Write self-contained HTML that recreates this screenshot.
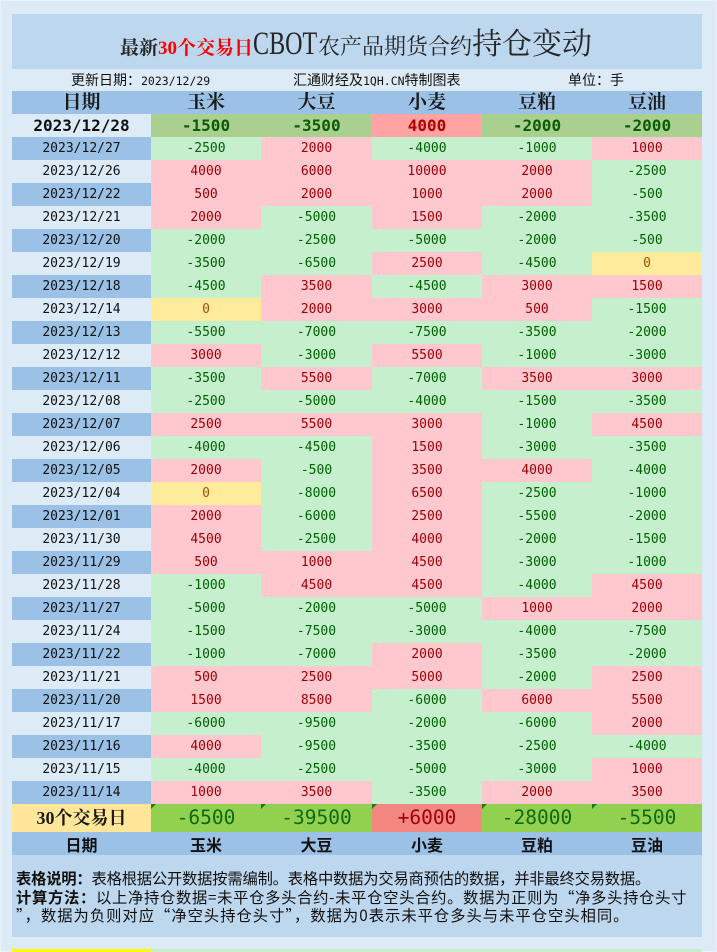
<!DOCTYPE html>
<html><head><meta charset="utf-8">
<style>
*{margin:0;padding:0;box-sizing:border-box}
html,body{width:717px;height:952px;overflow:hidden;background:#ddebf7}
body{position:relative;font-family:"Liberation Sans","Noto Sans CJK SC",sans-serif;color:#111}
.frame{position:absolute;left:0;top:0;width:717px;height:952px;border:1px solid #e9f1fa}
.titlebox{position:absolute;left:12px;top:14px;width:690px;height:55px;background:#bdd7ee}
.title{position:absolute;left:108px;top:14px;display:flex;align-items:baseline;white-space:nowrap;color:#262626;font-family:"Liberation Serif","Noto Serif CJK SC",serif}
.title span{line-height:1}
.t1{font-size:19px;font-weight:bold}
.red{color:#ff0000}
.cbot{font-size:33px;display:inline-block;transform:scaleX(0.73);transform-origin:0 100%;margin-right:-23px}
.t2{font-size:22px}
.t3{font-size:30px}
.sub{position:absolute;top:69px;height:22px;line-height:22px;font-size:14px;white-space:nowrap;font-family:"Liberation Sans","Noto Sans CJK SC",sans-serif;color:#111}
.mono{font-family:"DejaVu Sans Mono",monospace;font-size:11.5px}
table{position:absolute;left:12px;top:91px;width:690px;border-collapse:collapse;table-layout:fixed;border-spacing:0}
td{padding:0;height:23px;line-height:22px;text-align:center;white-space:nowrap;overflow:hidden;font-family:"DejaVu Sans Mono",monospace;font-size:13px}
tr{height:23px}
.hd td{background:#9bc2e6;font-family:"Liberation Serif","Noto Serif CJK SC",serif;font-weight:bold;font-size:19px;color:#1a1a1a}
.d{color:#111}
.b{background:#9bc2e6}
.l{background:#ddebf7}
.p{background:#ffc7ce;color:#9c0006}
.n{background:#c6efce;color:#006100}
.z{background:#ffeb9c;color:#9c5700}
.top td{font-weight:bold;font-size:16px}
.top .g{background:#a9d08e;color:#0a5c0a}
.top .r{background:#ffa3a3;color:#b00000}
.sum{height:28px}
.sum td{height:28px;line-height:28px;font-size:19.5px;position:relative}
.sum .lab{background:#ffe699;font-family:"Liberation Serif","Noto Serif CJK SC",serif;font-weight:bold;font-size:18px;color:#1a1a1a}
.sum .g{background:#92d050;color:#0f6a0f}
.sum .r{background:#f4877f;color:#a00010}
.sum .g::before,.sum .r::before{content:"";position:absolute;left:0;top:0;border-top:5px solid #1a7a1a;border-right:5px solid transparent}
.fh td{background:#9bc2e6;font-family:"Noto Sans CJK SC",sans-serif;font-weight:bold;font-size:16px;color:#111}
.foot{position:absolute;left:12px;top:855px;width:690px;height:82px;background:#bdd7ee;padding:14px 0 0 4px;font-family:"Noto Sans CJK SC",sans-serif;font-size:15.3px;line-height:18.5px;color:#111}
.foot div{white-space:nowrap}
.foot b{font-weight:bold}
.strip1{position:absolute;left:12px;top:949px;width:140px;height:3px;background:#ffff00}
.strip2{position:absolute;left:152px;top:949px;width:550px;height:3px;background:#c6efce}
</style></head><body>
<div class="frame"></div>
<div class="titlebox">
  <div class="title"><span class="t1">最新</span><span class="t1 red">30个交易日</span><span class="cbot">CBOT</span><span class="t2">农产品期货合约</span><span class="t3">持仓变动</span></div>
</div>
<div class="sub" style="left:71px">更新日期：<span class="mono">2023/12/29</span></div>
<div class="sub" style="left:293px">汇通财经及<span class="mono">1QH.CN</span>特制图表</div>
<div class="sub" style="left:568px">单位：手</div>

<table>
<colgroup><col style="width:139px"><col style="width:110px"><col style="width:111px"><col style="width:110px"><col style="width:110px"><col style="width:110px"></colgroup>
<tr class="hd"><td>日期</td><td>玉米</td><td>大豆</td><td>小麦</td><td>豆粕</td><td>豆油</td></tr>
<tr class="top"><td class="l d">2023/12/28</td><td class="g">-1500</td><td class="g">-3500</td><td class="r">4000</td><td class="g">-2000</td><td class="g">-2000</td></tr>
<tr><td class="b d">2023/12/27</td><td class="n">-2500</td><td class="p">2000</td><td class="n">-4000</td><td class="n">-1000</td><td class="p">1000</td></tr>
<tr><td class="l d">2023/12/26</td><td class="p">4000</td><td class="p">6000</td><td class="p">10000</td><td class="p">2000</td><td class="n">-2500</td></tr>
<tr><td class="b d">2023/12/22</td><td class="p">500</td><td class="p">2000</td><td class="p">1000</td><td class="p">2000</td><td class="n">-500</td></tr>
<tr><td class="l d">2023/12/21</td><td class="p">2000</td><td class="n">-5000</td><td class="p">1500</td><td class="n">-2000</td><td class="n">-3500</td></tr>
<tr><td class="b d">2023/12/20</td><td class="n">-2000</td><td class="n">-2500</td><td class="n">-5000</td><td class="n">-2000</td><td class="n">-500</td></tr>
<tr><td class="l d">2023/12/19</td><td class="n">-3500</td><td class="n">-6500</td><td class="p">2500</td><td class="n">-4500</td><td class="z">0</td></tr>
<tr><td class="b d">2023/12/18</td><td class="n">-4500</td><td class="p">3500</td><td class="n">-4500</td><td class="p">3000</td><td class="p">1500</td></tr>
<tr><td class="l d">2023/12/14</td><td class="z">0</td><td class="p">2000</td><td class="p">3000</td><td class="p">500</td><td class="n">-1500</td></tr>
<tr><td class="b d">2023/12/13</td><td class="n">-5500</td><td class="n">-7000</td><td class="n">-7500</td><td class="n">-3500</td><td class="n">-2000</td></tr>
<tr><td class="l d">2023/12/12</td><td class="p">3000</td><td class="n">-3000</td><td class="p">5500</td><td class="n">-1000</td><td class="n">-3000</td></tr>
<tr><td class="b d">2023/12/11</td><td class="n">-3500</td><td class="p">5500</td><td class="n">-7000</td><td class="p">3500</td><td class="p">3000</td></tr>
<tr><td class="l d">2023/12/08</td><td class="n">-2500</td><td class="n">-5000</td><td class="n">-4000</td><td class="n">-1500</td><td class="n">-3500</td></tr>
<tr><td class="b d">2023/12/07</td><td class="p">2500</td><td class="p">5500</td><td class="p">3000</td><td class="n">-1000</td><td class="p">4500</td></tr>
<tr><td class="l d">2023/12/06</td><td class="n">-4000</td><td class="n">-4500</td><td class="p">1500</td><td class="n">-3000</td><td class="n">-3500</td></tr>
<tr><td class="b d">2023/12/05</td><td class="p">2000</td><td class="n">-500</td><td class="p">3500</td><td class="p">4000</td><td class="n">-4000</td></tr>
<tr><td class="l d">2023/12/04</td><td class="z">0</td><td class="n">-8000</td><td class="p">6500</td><td class="n">-2500</td><td class="n">-1000</td></tr>
<tr><td class="b d">2023/12/01</td><td class="p">2000</td><td class="n">-6000</td><td class="p">2500</td><td class="n">-5500</td><td class="n">-2000</td></tr>
<tr><td class="l d">2023/11/30</td><td class="p">4500</td><td class="n">-2500</td><td class="p">4000</td><td class="n">-2000</td><td class="n">-1500</td></tr>
<tr><td class="b d">2023/11/29</td><td class="p">500</td><td class="p">1000</td><td class="p">4500</td><td class="n">-3000</td><td class="n">-1000</td></tr>
<tr><td class="l d">2023/11/28</td><td class="n">-1000</td><td class="p">4500</td><td class="p">4500</td><td class="n">-4000</td><td class="p">4500</td></tr>
<tr><td class="b d">2023/11/27</td><td class="n">-5000</td><td class="n">-2000</td><td class="n">-5000</td><td class="p">1000</td><td class="p">2000</td></tr>
<tr><td class="l d">2023/11/24</td><td class="n">-1500</td><td class="n">-7500</td><td class="n">-3000</td><td class="n">-4000</td><td class="n">-7500</td></tr>
<tr><td class="b d">2023/11/22</td><td class="n">-1000</td><td class="n">-7000</td><td class="p">2000</td><td class="n">-3500</td><td class="n">-2000</td></tr>
<tr><td class="l d">2023/11/21</td><td class="p">500</td><td class="p">2500</td><td class="p">5000</td><td class="n">-2000</td><td class="p">2500</td></tr>
<tr><td class="b d">2023/11/20</td><td class="p">1500</td><td class="p">8500</td><td class="n">-6000</td><td class="p">6000</td><td class="p">5500</td></tr>
<tr><td class="l d">2023/11/17</td><td class="n">-6000</td><td class="n">-9500</td><td class="n">-2000</td><td class="n">-6000</td><td class="p">2000</td></tr>
<tr><td class="b d">2023/11/16</td><td class="p">4000</td><td class="n">-9500</td><td class="n">-3500</td><td class="n">-2500</td><td class="n">-4000</td></tr>
<tr><td class="l d">2023/11/15</td><td class="n">-4000</td><td class="n">-2500</td><td class="n">-5000</td><td class="n">-3000</td><td class="p">1000</td></tr>
<tr><td class="b d">2023/11/14</td><td class="p">1000</td><td class="p">3500</td><td class="n">-3500</td><td class="p">2000</td><td class="p">3500</td></tr>
<tr class="sum"><td class="lab">30个交易日</td><td class="g">-6500</td><td class="g">-39500</td><td class="r">+6000</td><td class="g">-28000</td><td class="g">-5500</td></tr>
<tr class="fh"><td>日期</td><td>玉米</td><td>大豆</td><td>小麦</td><td>豆粕</td><td>豆油</td></tr>
</table>

<div class="foot">
<div style="letter-spacing:-0.2px"><b>表格说明：</b>表格根据公开数据按需编制。表格中数据为交易商预估的数据，并非最终交易数据。</div>
<div style="letter-spacing:0.7px"><b>计算方法：</b>以上净持仓数据=未平仓多头合约-未平仓空头合约。数据为正则为“净多头持仓头寸</div>
<div style="letter-spacing:1px">”，数据为负则对应“净空头持仓头寸”，数据为0表示未平仓多头与未平仓空头相同。</div>
</div>
<div class="strip1"></div>
<div class="strip2"></div>
</body></html>
